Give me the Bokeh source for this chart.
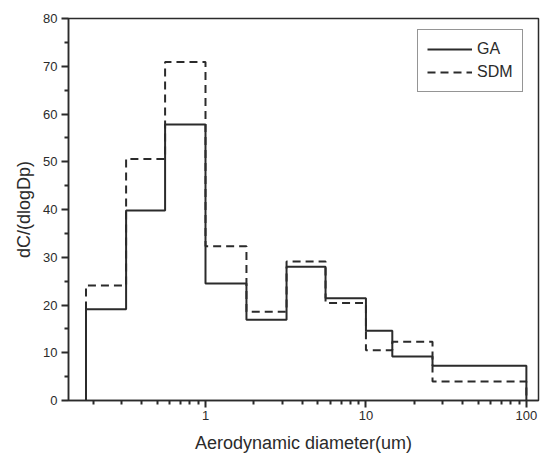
from bokeh.plotting import figure
from bokeh.models import Range1d, FixedTicker, Legend, LegendItem
from bokeh.embed import file_html
from bokeh.resources import INLINE

# Bin edges (aerodynamic diameter, um)
edges = [0.18, 0.32, 0.56, 1.0, 1.8, 3.2, 5.6, 10.0, 14.6, 26.0, 100.0]
# dC/dlogDp per bin
ga = [19.1, 39.8, 57.8, 24.5, 16.9, 28.0, 21.4, 14.6, 9.2, 7.3]
sdm = [24.1, 50.6, 70.9, 32.3, 18.6, 29.1, 20.4, 10.5, 12.3, 4.0]

x_major = [1, 10, 100]
x_minor = [0.2, 0.3, 0.4, 0.5, 0.6, 0.7, 0.8, 0.9,
           2, 3, 4, 5, 6, 7, 8, 9,
           20, 30, 40, 50, 60, 70, 80, 90]
y_major = [0, 10, 20, 30, 40, 50, 60, 70, 80]
y_minor = [5, 15, 25, 35, 45, 55, 65, 75]


def step_path(e, v):
    xs, ys = [e[0]], [0]
    for i, val in enumerate(v):
        xs += [e[i], e[i + 1]]
        ys += [val, val]
    xs.append(e[-1])
    ys.append(0)
    return xs, ys


FONT = "Liberation Sans"
INK = "#2b2b2b"

p = figure(width=541, height=455, x_axis_type="log",
           x_range=Range1d(0.14, 119), y_range=Range1d(0, 80),
           output_backend="svg", toolbar_location=None,
           min_border_left=68, min_border_right=3,
           min_border_top=18, min_border_bottom=54)

p.xgrid.visible = False
p.ygrid.visible = False
p.outline_line_color = INK
p.outline_line_width = 1.5
p.outline_line_alpha = 1.0

gx, gy = step_path(edges, ga)
sx, sy = step_path(edges, sdm)
r_sdm = p.line(sx, sy, line_color=INK, line_width=2, line_dash="8 5")
r_ga = p.line(gx, gy, line_color=INK, line_width=2)

p.xaxis.ticker = FixedTicker(ticks=x_major, minor_ticks=x_minor)
p.yaxis.ticker = FixedTicker(ticks=y_major, minor_ticks=y_minor)
p.xaxis.major_label_overrides = {1: "1", 10: "10", 100: "100"}

for ax in (p.xaxis[0], p.yaxis[0]):
    ax.axis_line_color = INK
    ax.axis_line_width = 1.5
    ax.major_tick_line_color = INK
    ax.minor_tick_line_color = INK
    ax.major_tick_line_width = 2
    ax.minor_tick_line_width = 2
    ax.major_tick_in = 0
    ax.major_tick_out = 7
    ax.minor_tick_in = 0
    ax.minor_tick_out = 4
    ax.major_label_text_font = FONT
    ax.major_label_text_font_size = "13px"
    ax.major_label_text_color = INK
    ax.axis_label_text_font = FONT
    ax.axis_label_text_font_size = "18px"
    ax.axis_label_text_font_style = "normal"
    ax.axis_label_text_color = INK

p.xaxis.axis_label = "Aerodynamic diameter(um)"
p.yaxis.axis_label = "dC/(dlogDp)"
p.xaxis.major_label_standoff = 3
p.yaxis.major_label_standoff = 4
p.xaxis.axis_label_standoff = 10
p.yaxis.axis_label_standoff = 6

legend = Legend(items=[LegendItem(label="GA", renderers=[r_ga]),
                       LegendItem(label="SDM", renderers=[r_sdm])],
                location=(349, 308))
legend.label_text_font = FONT
legend.label_text_font_size = "16px"
legend.label_text_color = INK
legend.glyph_width = 45
legend.label_standoff = 5
legend.padding = 9
legend.spacing = 3
legend.border_line_color = INK
legend.border_line_width = 1
legend.background_fill_alpha = 1.0
p.add_layout(legend, "center")

open("out.html", "w").write(file_html(p, INLINE))
